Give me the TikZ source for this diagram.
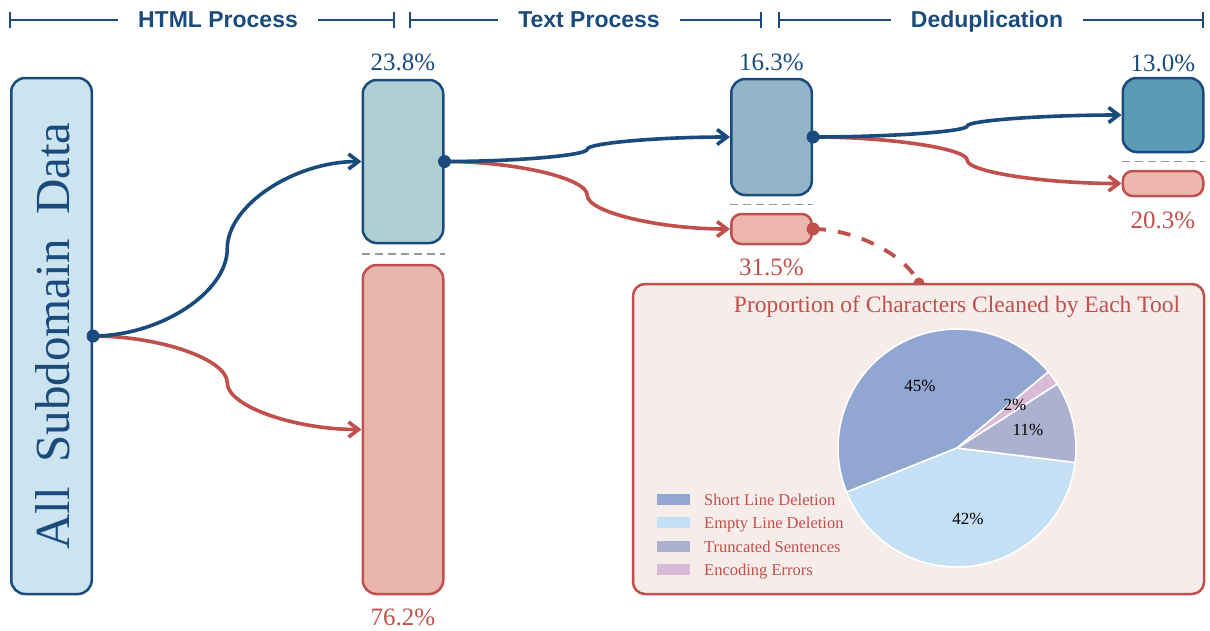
\documentclass[tikz,border=0pt]{standalone}
\usepackage{fontspec}
\setmainfont{Liberation Serif}
\newfontfamily\hdrfont{Liberation Sans}
\usetikzlibrary{arrows.meta,calc}
\definecolor{dblue}{HTML}{1B4B7C}
\definecolor{dred}{HTML}{C0504D}
\definecolor{fillA}{HTML}{CCE4F0}
\definecolor{fillB}{HTML}{AECFD4}
\definecolor{fillC}{HTML}{E8B4AE}
\definecolor{fillD}{HTML}{94B5C9}
\definecolor{fillE}{HTML}{EDB7AF}
\definecolor{fillF}{HTML}{5B9BB5}
\definecolor{panel}{HTML}{F6ECEA}
\definecolor{pieA}{HTML}{91A6D1}
\definecolor{pieB}{HTML}{C5E0F4}
\definecolor{pieC}{HTML}{ADB1D0}
\definecolor{pieD}{HTML}{D9BBD7}
\newcommand\flowto[3]{%
  \coordinate (fm) at ($(#2)!0.5!(#3)$);
  \draw[#1] (#2) .. controls ($(#2)!0.5!(#2 -| fm)$) and ($(fm)!0.5!(fm |- #2)$) .. (fm)
     .. controls ($(fm)!0.5!(fm |- #3)$) and ($(#3)!0.5!(#3 -| fm)$) .. (#3);}
\begin{document}
\begin{tikzpicture}[x=1pt,y=-1pt,
  hdr/.style={font=\hdrfont\bfseries\fontsize{23}{27}\selectfont, text=dblue, inner sep=0pt},
  hline/.style={draw=dblue, line width=2.2pt},
  box/.style={draw, line width=2.5pt, rounded corners=14pt, minimum width=80.5pt, inner sep=0pt},
  sbox/.style={box, rounded corners=10pt},
  bluebox/.style={draw=dblue},
  redbox/.style={draw=dred},
  pct/.style={font=\fontsize{25}{30}\selectfont, inner sep=0pt, anchor=base},
  sep/.style={draw=gray!80, line width=1.8pt, dash pattern=on 8pt off 5pt},
  bflow/.style={draw=dblue, line width=3.6pt, -{Straight Barb[length=10pt,width=15pt]}},
  rflow/.style={draw=dred, line width=3.6pt, -{Straight Barb[length=10pt,width=15pt]}},
  legtxt/.style={font=\fontsize{16.5}{20}\selectfont, text=dred, inner sep=0pt, anchor=base west},
  pielbl/.style={font=\fontsize{17}{20}\selectfont, inner sep=0pt}
]
\useasboundingbox (0,0) rectangle (1210,630);

% ---------- header ----------
\node[hdr, anchor=base] (t1) at (218,27) {HTML Process};
\node[hdr, anchor=base] (t2) at (589,27) {Text Process};
\node[hdr, anchor=base] (t3) at (987,27) {Deduplication};
\coordinate (h1a) at (10,20);  \coordinate (h1b) at (394,20);
\coordinate (h2a) at (410,20); \coordinate (h2b) at (761,20);
\coordinate (h3a) at (779,20); \coordinate (h3b) at (1203,20);
\foreach \a/\b/\t in {h1a/h1b/t1,h2a/h2b/t2,h3a/h3b/t3}{
  \draw[hline] (\a) -- ($(\t.west |- \a)+(-20,0)$);
  \draw[hline] ($(\t.east |- \b)+(20,0)$) -- (\b);
  \draw[hline] ($(\a)+(0,-8)$) -- ($(\a)+(0,8)$);
  \draw[hline] ($(\b)+(0,-8)$) -- ($(\b)+(0,8)$);
}

% ---------- boxes ----------
\node[box, bluebox, fill=fillA, minimum height=516pt] (b1) at (51.5,336) {};
\node[rotate=90, text=dblue, font=\fontsize{49}{55}\selectfont, inner sep=0pt] (t0) at (53,336)
  {All\hspace{0.5em}Subdomain\hspace{0.5em}Data};
\node[box, bluebox, fill=fillB, minimum height=163pt] (b2) at (403,161.5) {};
\node[box, redbox, fill=fillC, minimum height=329pt] (b3) at (403,429.5) {};
\node[box, bluebox, fill=fillD, minimum height=116pt] (b4) at (771.5,137) {};
\node[sbox, redbox, fill=fillE, minimum height=30pt] (b5) at (771.5,229) {};
\node[box, bluebox, fill=fillF, minimum height=74pt] (b6) at (1163,115) {};
\node[sbox, redbox, fill=fillE, minimum height=25pt] (b7) at (1163,183.5) {};

\draw[sep] ($(b2.south west)!0.5!(b3.north west)$) -- ($(b2.south east)!0.5!(b3.north east)$);
\draw[sep] ($(b4.south west)!0.5!(b5.north west)$) -- ($(b4.south east)!0.5!(b5.north east)$);
\draw[sep] ($(b6.south west)!0.5!(b7.north west)$) -- ($(b6.south east)!0.5!(b7.north east)$);

% ---------- percentages ----------
\node[pct, text=dblue] (p2) at (403,70) {23.8\%};
\node[pct, text=dred] (p3) at (403,625) {76.2\%};
\node[pct, text=dblue] (p4) at (771.5,70) {16.3\%};
\node[pct, text=dred] (p5) at (771.5,275) {31.5\%};
\node[pct, text=dblue] (p6) at (1163,71) {13.0\%};
\node[pct, text=dred] (p7) at (1163,228) {20.3\%};

% ---------- connectors ----------
\flowto{rflow}{b1.east}{b3.west}
\flowto{bflow}{b1.east}{b2.west}
\flowto{rflow}{b2.east}{b5.west}
\flowto{bflow}{b2.east}{b4.west}
\flowto{rflow}{b4.east}{b7.west}
\flowto{bflow}{b4.east}{b6.west}
\fill[dblue] (b1.east) circle[radius=6.5pt];
\fill[dblue] (b2.east) circle[radius=6.5pt];
\fill[dblue] (b4.east) circle[radius=6.5pt];

% ---------- dashed link to panel ----------
\coordinate (pin) at (919,283);
\draw[dred, line width=3.8pt, dash pattern=on 13pt off 12pt] (b5.east) .. controls +(40,0) and +(-15,-30) .. (pin);
\fill[dred] (b5.east) circle[radius=6.5pt];
\fill[dred] (pin) circle[radius=5.5pt];

% ---------- panel ----------
\node[draw=dred, fill=panel, line width=2.5pt, rounded corners=12pt, minimum width=571pt, minimum height=310pt, inner sep=0pt] (pb) at (918.5,439) {};
\node[font=\fontsize{23.5}{28}\selectfont, text=dred, inner sep=0pt, anchor=base] (pt) at (957,312)
  {Proportion of Characters Cleaned by Each Tool};

\begin{scope}[shift={(957,448)}, y=1pt]
  \def\R{119}
  \filldraw[fill=pieA, draw=white, line width=1.6pt] (0,0) -- (39.8:\R) arc[start angle=39.8, end angle=201.8, radius=\R] -- cycle;
  \filldraw[fill=pieB, draw=white, line width=1.6pt] (0,0) -- (201.8:\R) arc[start angle=201.8, end angle=353.0, radius=\R] -- cycle;
  \filldraw[fill=pieC, draw=white, line width=1.6pt] (0,0) -- (353.0:\R) arc[start angle=353.0, end angle=392.6, radius=\R] -- cycle;
  \filldraw[fill=pieD, draw=white, line width=1.6pt] (0,0) -- (32.6:\R) arc[start angle=32.6, end angle=39.8, radius=\R] -- cycle;
\end{scope}
\node[pielbl] (q1) at (920,386) {45\%};
\node[pielbl] (q2) at (1015,405) {2\%};
\node[pielbl] (q3) at (1028,430) {11\%};
\node[pielbl] (q4) at (968,519) {42\%};

% legend
\fill[pieA] (657,493.5) rectangle (690,504.5);
\fill[pieB] (657,516.5) rectangle (690,527.5);
\fill[pieC] (657,540.5) rectangle (690,551.5);
\fill[pieD] (657,563.5) rectangle (690,574.5);
\node[legtxt] (g1) at (704,505) {Short Line Deletion};
\node[legtxt] (g2) at (704,528) {Empty Line Deletion};
\node[legtxt] (g3) at (704,552) {Truncated Sentences};
\node[legtxt] (g4) at (704,575) {Encoding Errors};
\end{tikzpicture}
\end{document}
